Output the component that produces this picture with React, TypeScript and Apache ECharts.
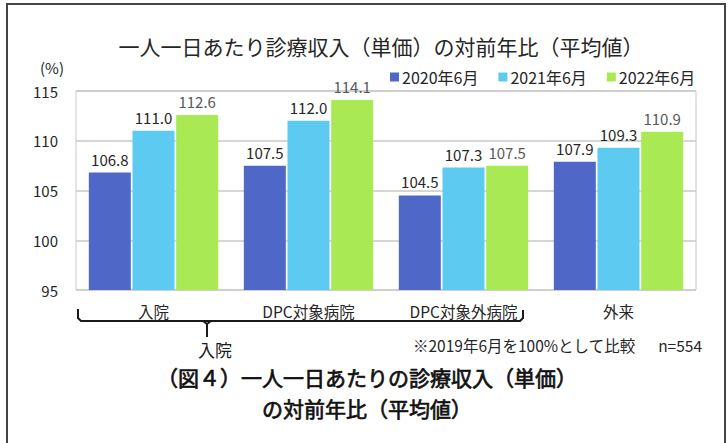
import React, { useEffect, useRef } from "react";
import * as echarts from "echarts";

const categories = ["入院", "DPC対象病院", "DPC対象外病院", "外来"];
const seriesNames = ["2020年6月", "2021年6月", "2022年6月"];
const values2020 = [106.8, 107.5, 104.5, 107.9];
const values2021 = [111.0, 112.0, 107.3, 109.3];
const values2022 = [112.6, 114.1, 107.5, 110.9];
const colors = ["#4F68C7", "#5DCBF1", "#A9E953"];
const labelColors = ["#262626", "#262626", "#595959"];

const FONT = "'Noto Sans CJK JP', 'Noto Sans', sans-serif";

export default function App() {
  const ref = useRef<HTMLDivElement>(null);
  useEffect(() => {
    if (!ref.current) return;
    const chart = echarts.init(ref.current, null, { renderer: "svg" });
    const data = [values2020, values2021, values2022];
    chart.setOption({
      animation: false,
      backgroundColor: "#ffffff",
      textStyle: { fontFamily: FONT },
      title: {
        text: "一人一日あたり診療収入（単価）の対前年比（平均値）",
        left: 376,
        textAlign: "center",
        top: 30,
        textStyle: { fontSize: 21, fontWeight: "normal", color: "#262626", fontFamily: FONT },
      },
      legend: {
        data: seriesNames,
        left: 385,
        top: 64,
        itemWidth: 9,
        itemHeight: 9,
        itemGap: 20,
        icon: "rect",
        textStyle: { fontSize: 16, color: "#262626", fontFamily: FONT, padding: [0, 0, 0, -2] },
      },
      grid: {
        left: 76,
        right: 32,
        top: 91,
        bottom: 153,
        show: true,
        borderColor: "#c8c8c8",
        borderWidth: 1,
      },
      xAxis: {
        type: "category",
        data: categories,
        axisLine: { show: false },
        axisTick: { show: false },
        axisLabel: { fontSize: 15.5, color: "#262626", margin: 13, fontFamily: FONT },
      },
      yAxis: {
        type: "value",
        min: 95,
        max: 115,
        interval: 5,
        name: "(%)",
        nameLocation: "end",
        nameGap: 16,
        nameTextStyle: { fontSize: 15, color: "#262626", align: "right", padding: [0, 12, 0, 0], fontFamily: FONT },
        axisLine: { show: false },
        axisTick: { show: false },
        axisLabel: { fontSize: 15, color: "#262626", margin: 18, fontFamily: FONT },
        splitLine: { lineStyle: { color: "#c8c8c8", width: 1.5 } },
      },
      series: seriesNames.map((name, i) => ({
        name,
        type: "bar",
        data: data[i],
        barWidth: 42,
        barGap: "4%",
        itemStyle: { color: colors[i] },
        label: {
          show: true,
          position: "top",
          distance: 6,
          fontSize: 15,
          color: labelColors[i],
          fontFamily: FONT,
          formatter: (p: any) => Number(p.value).toFixed(1),
        },
      })),
      graphic: [
        {
          type: "rect",
          shape: { x: 7, y: 4, width: 718, height: 460 },
          style: { fill: "none", stroke: "#444444", lineWidth: 2 },
          silent: true,
        },
        {
          type: "polyline",
          shape: {
            points: [
              [78, 309],
              [78, 318],
              [81, 321],
              [520, 321],
              [523, 318],
              [523, 310],
            ],
          },
          style: { fill: "none", stroke: "#1a1a1a", lineWidth: 2 },
        },
        {
          type: "polyline",
          shape: {
            points: [
              [203, 321],
              [207, 324],
              [207, 337],
            ],
          },
          style: { fill: "none", stroke: "#1a1a1a", lineWidth: 2 },
        },
        {
          type: "polyline",
          shape: {
            points: [
              [211, 321],
              [207, 324],
            ],
          },
          style: { fill: "none", stroke: "#1a1a1a", lineWidth: 2 },
        },
        {
          type: "text",
          x: 215,
          y: 349,
          style: {
            text: "入院",
            fontSize: 17,
            fill: "#1a1a1a",
            align: "center",
            verticalAlign: "middle",
            fontFamily: FONT,
          },
        },
        {
          type: "text",
          x: 413,
          y: 345,
          style: {
            text: "※2019年6月を100%として比較",
            fontSize: 15.5,
            fill: "#262626",
            align: "left",
            verticalAlign: "middle",
            fontFamily: FONT,
          },
        },
        {
          type: "text",
          x: 702,
          y: 345,
          style: {
            text: "n=554",
            fontSize: 15.5,
            fill: "#262626",
            align: "right",
            verticalAlign: "middle",
            fontFamily: FONT,
          },
        },
        {
          type: "text",
          x: 367,
          y: 377,
          style: {
            text: "（図４）一人一日あたりの診療収入（単価）",
            fontSize: 21,
            fontWeight: "normal",
            fill: "#111111",
            stroke: "#111111",
            lineWidth: 0.7,
            align: "center",
            verticalAlign: "middle",
            fontFamily: FONT,
          },
        },
        {
          type: "text",
          x: 367,
          y: 408,
          style: {
            text: "の対前年比（平均値）",
            fontSize: 21,
            fontWeight: "normal",
            fill: "#111111",
            stroke: "#111111",
            lineWidth: 0.7,
            align: "center",
            verticalAlign: "middle",
            fontFamily: FONT,
          },
        },
      ],
    });
    return () => chart.dispose();
  }, []);
  return (
    <div
      ref={ref}
      style={{ position: "fixed", left: 0, top: 0, width: 728, height: 443, background: "#fff" }}
    />
  );
}
